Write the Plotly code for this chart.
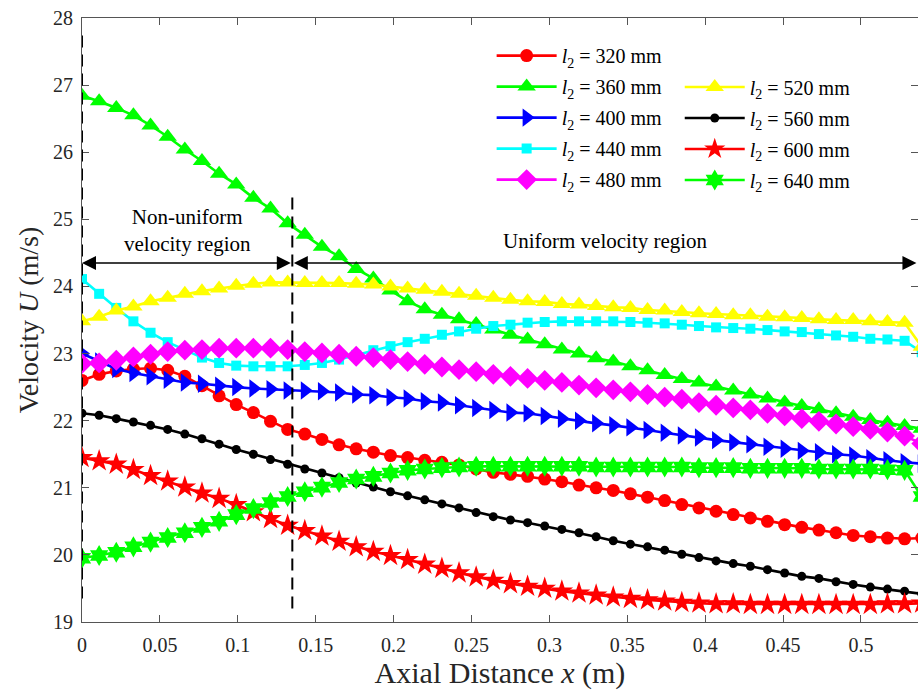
import plotly.graph_objects as go

x_m = [0.000, 0.011, 0.022, 0.033, 0.044, 0.055, 0.066, 0.077, 0.088, 0.099,
       0.110, 0.121, 0.132, 0.143, 0.154, 0.165, 0.176, 0.187, 0.198, 0.209,
       0.220, 0.231, 0.242, 0.253, 0.264, 0.275, 0.286, 0.297, 0.308, 0.319,
       0.330, 0.341, 0.352, 0.363, 0.374, 0.385, 0.396, 0.407, 0.418, 0.429,
       0.440, 0.451, 0.462, 0.473, 0.484, 0.495, 0.506, 0.517, 0.528, 0.539]

u_320 = [22.60, 22.69, 22.74, 22.77, 22.78, 22.75, 22.66, 22.52, 22.37, 22.24,
         22.12, 21.99, 21.87, 21.80, 21.72, 21.64, 21.58, 21.53, 21.48, 21.45,
         21.41, 21.38, 21.34, 21.28, 21.23, 21.20, 21.17, 21.13, 21.09, 21.04,
         21.00, 20.96, 20.91, 20.86, 20.81, 20.75, 20.70, 20.65, 20.60, 20.55,
         20.50, 20.45, 20.41, 20.37, 20.33, 20.29, 20.27, 20.25, 20.24, 20.25]
u_360 = [26.84, 26.76, 26.66, 26.55, 26.40, 26.23, 26.04, 25.87, 25.68, 25.52,
         25.32, 25.16, 24.94, 24.77, 24.59, 24.45, 24.26, 24.12, 23.94, 23.78,
         23.66, 23.58, 23.51, 23.44, 23.36, 23.28, 23.21, 23.14, 23.06, 23.00,
         22.93, 22.88, 22.81, 22.75, 22.68, 22.62, 22.57, 22.51, 22.45, 22.39,
         22.33, 22.27, 22.22, 22.17, 22.11, 22.06, 22.01, 21.97, 21.92, 21.88]
u_400 = [23.00, 22.88, 22.77, 22.71, 22.66, 22.61, 22.57, 22.55, 22.52, 22.50,
         22.48, 22.47, 22.45, 22.45, 22.44, 22.42, 22.39, 22.38, 22.35, 22.33,
         22.29, 22.27, 22.23, 22.19, 22.16, 22.12, 22.11, 22.07, 22.03, 22.00,
         21.96, 21.93, 21.90, 21.86, 21.82, 21.78, 21.75, 21.71, 21.68, 21.65,
         21.61, 21.58, 21.55, 21.53, 21.50, 21.48, 21.44, 21.41, 21.38, 21.36]
u_440 = [24.11, 23.89, 23.68, 23.48, 23.31, 23.17, 23.05, 22.94, 22.86, 22.82,
         22.81, 22.81, 22.81, 22.83, 22.86, 22.91, 22.98, 23.05, 23.11, 23.17,
         23.22, 23.28, 23.33, 23.37, 23.41, 23.43, 23.46, 23.47, 23.48, 23.48,
         23.48, 23.48, 23.47, 23.46, 23.45, 23.43, 23.41, 23.39, 23.38, 23.37,
         23.35, 23.33, 23.32, 23.29, 23.27, 23.25, 23.22, 23.21, 23.19, 23.02]
u_480 = [22.85, 22.86, 22.90, 22.95, 22.99, 23.03, 23.05, 23.06, 23.08, 23.08,
         23.08, 23.08, 23.06, 23.03, 23.01, 22.99, 22.96, 22.94, 22.91, 22.88,
         22.84, 22.80, 22.76, 22.73, 22.69, 22.66, 22.63, 22.60, 22.57, 22.53,
         22.49, 22.46, 22.43, 22.39, 22.35, 22.32, 22.27, 22.23, 22.19, 22.16,
         22.11, 22.07, 22.03, 21.99, 21.95, 21.91, 21.87, 21.83, 21.77, 21.66]
u_520 = [23.48, 23.55, 23.64, 23.70, 23.78, 23.83, 23.89, 23.93, 23.97, 24.01,
         24.04, 24.06, 24.06, 24.05, 24.05, 24.05, 24.04, 24.03, 24.00, 23.97,
         23.95, 23.92, 23.89, 23.86, 23.83, 23.80, 23.78, 23.77, 23.74, 23.73,
         23.71, 23.69, 23.68, 23.65, 23.64, 23.62, 23.60, 23.59, 23.57, 23.57,
         23.55, 23.54, 23.53, 23.51, 23.50, 23.50, 23.48, 23.47, 23.46, 23.10]
u_560 = [22.11, 22.08, 22.03, 21.98, 21.93, 21.87, 21.80, 21.73, 21.65, 21.57,
         21.50, 21.42, 21.35, 21.28, 21.22, 21.15, 21.07, 21.01, 20.94, 20.88,
         20.82, 20.76, 20.70, 20.63, 20.57, 20.52, 20.48, 20.43, 20.38, 20.33,
         20.27, 20.21, 20.16, 20.12, 20.07, 20.01, 19.96, 19.91, 19.87, 19.83,
         19.78, 19.73, 19.68, 19.65, 19.60, 19.56, 19.52, 19.49, 19.46, 19.42]
u_600 = [21.45, 21.40, 21.35, 21.27, 21.18, 21.10, 21.01, 20.92, 20.84, 20.75,
         20.64, 20.54, 20.44, 20.36, 20.28, 20.20, 20.12, 20.05, 19.99, 19.93,
         19.86, 19.80, 19.73, 19.67, 19.62, 19.57, 19.53, 19.50, 19.46, 19.43,
         19.40, 19.37, 19.35, 19.33, 19.31, 19.29, 19.28, 19.27, 19.27, 19.26,
         19.26, 19.26, 19.26, 19.26, 19.26, 19.26, 19.26, 19.27, 19.27, 19.28]
u_640 = [19.95, 19.99, 20.04, 20.12, 20.19, 20.26, 20.33, 20.41, 20.50, 20.60,
         20.69, 20.78, 20.87, 20.94, 21.01, 21.08, 21.13, 21.17, 21.22, 21.26,
         21.28, 21.30, 21.31, 21.32, 21.32, 21.32, 21.32, 21.32, 21.32, 21.32,
         21.31, 21.31, 21.31, 21.31, 21.31, 21.31, 21.30, 21.30, 21.30, 21.29,
         21.29, 21.29, 21.29, 21.28, 21.28, 21.28, 21.28, 21.27, 21.26, 20.87]

labels = ["320", "360", "400", "440", "480", "520", "560", "600", "640"]
series = [u_320, u_360, u_400, u_440, u_480, u_520, u_560, u_600, u_640]
colors = ["#FF0000", "#00FF00", "#0000FF", "#00FFFF", "#FF00FF",
          "#FFFF00", "#000000", "#FF0000", "#00FF00"]
symbols = ["circle", "triangle-up", "triangle-right", "square", "diamond",
           "triangle-up", "circle", "star", "hexagram"]
sizes = [13, 16, 16, 10, 16, 16, 9, 17, 16]
legends = ["legend", "legend", "legend", "legend", "legend",
           "legend2", "legend2", "legend2", "legend2"]

x_ticks = [0, 0.05, 0.1, 0.15, 0.2, 0.25, 0.3, 0.35, 0.4, 0.45, 0.5]
x_ticktext = ["0", "0.05", "0.1", "0.15", "0.2", "0.25", "0.3", "0.35", "0.4", "0.45", "0.5"]
y_ticks = [19, 20, 21, 22, 23, 24, 25, 26, 27, 28]

region_boundary = 0.135
x_max = 0.5366
arrow_y = 24.35

SERIF = "Liberation Serif, Times New Roman, serif"

fig = go.Figure()
for lab, ys, c, sym, sz, lg in zip(labels, series, colors, symbols, sizes, legends):
    fig.add_trace(go.Scatter(
        x=x_m, y=ys, mode="lines+markers",
        name="<i>l</i><sub>2</sub> = " + lab + " mm",
        legend=lg, legendgroup=lab,
        line=dict(color=c, width=2.6),
        marker=dict(symbol=sym, size=sz, color=c, line=dict(width=0)),
    ))

dash_style = dict(color="black", width=2, dash="12px,7px")
fig.add_shape(type="line", xref="x", yref="y", x0=0, x1=0, y0=19.35, y1=27.75,
              line=dash_style, layer="above")
fig.add_shape(type="line", xref="x", yref="y", x0=region_boundary, x1=region_boundary,
              y0=19.2, y1=25.37, line=dash_style, layer="above")

arrow_common = dict(xref="x", yref="y", axref="x", ayref="y", showarrow=True,
                    arrowhead=2, startarrowhead=2, arrowside="end+start",
                    arrowsize=2.0, startarrowsize=2.0, arrowwidth=1.4,
                    arrowcolor="black", text="")
fig.add_annotation(x=0, y=arrow_y, ax=region_boundary, ay=arrow_y, **arrow_common)
fig.add_annotation(x=x_max - 0.001, y=arrow_y, ax=region_boundary, ay=arrow_y, **arrow_common)

fig.add_annotation(x=0.0675, y=24.83, xref="x", yref="y", showarrow=False,
                   text="Non-uniform<br>velocity region",
                   font=dict(family=SERIF, size=21, color="black"))
fig.add_annotation(x=0.336, y=24.67, xref="x", yref="y", showarrow=False,
                   text="Uniform velocity region",
                   font=dict(family=SERIF, size=21, color="black"))

axis_common = dict(showline=True, linecolor="#555555", linewidth=1.2,
                   mirror="ticks", ticks="inside", ticklen=7, tickcolor="#555555",
                   showgrid=False, zeroline=False,
                   tickfont=dict(family=SERIF, size=20, color="#262626"))
fig.update_xaxes(range=[0, x_max], tickvals=x_ticks, ticktext=x_ticktext,
                 ticklabelstandoff=5,
                 title=dict(text="Axial Distance <i>x</i> (m)", standoff=6,
                            font=dict(family=SERIF, size=30, color="#262626")),
                 **axis_common)
fig.update_yaxes(range=[19, 28], tickvals=y_ticks,
                 ticklabelstandoff=4,
                 title=dict(text="Velocity <i>U</i> (m/s)", standoff=6,
                            font=dict(family=SERIF, size=28, color="#262626")),
                 **axis_common)

legend_common = dict(font=dict(family=SERIF, size=20, color="black"),
                     bgcolor="rgba(255,255,255,0)", borderwidth=0,
                     traceorder="grouped", tracegroupgap=2, itemwidth=60,
                     xanchor="left", yanchor="top")
fig.update_layout(
    width=918, height=691,
    margin=dict(l=82, r=0, t=18, b=69),
    paper_bgcolor="white", plot_bgcolor="white",
    showlegend=True,
    legend=dict(x=0.49, y=0.97, **legend_common),
    legend2=dict(x=0.715, y=0.918, **legend_common),
)

fig.write_html("out.html")
